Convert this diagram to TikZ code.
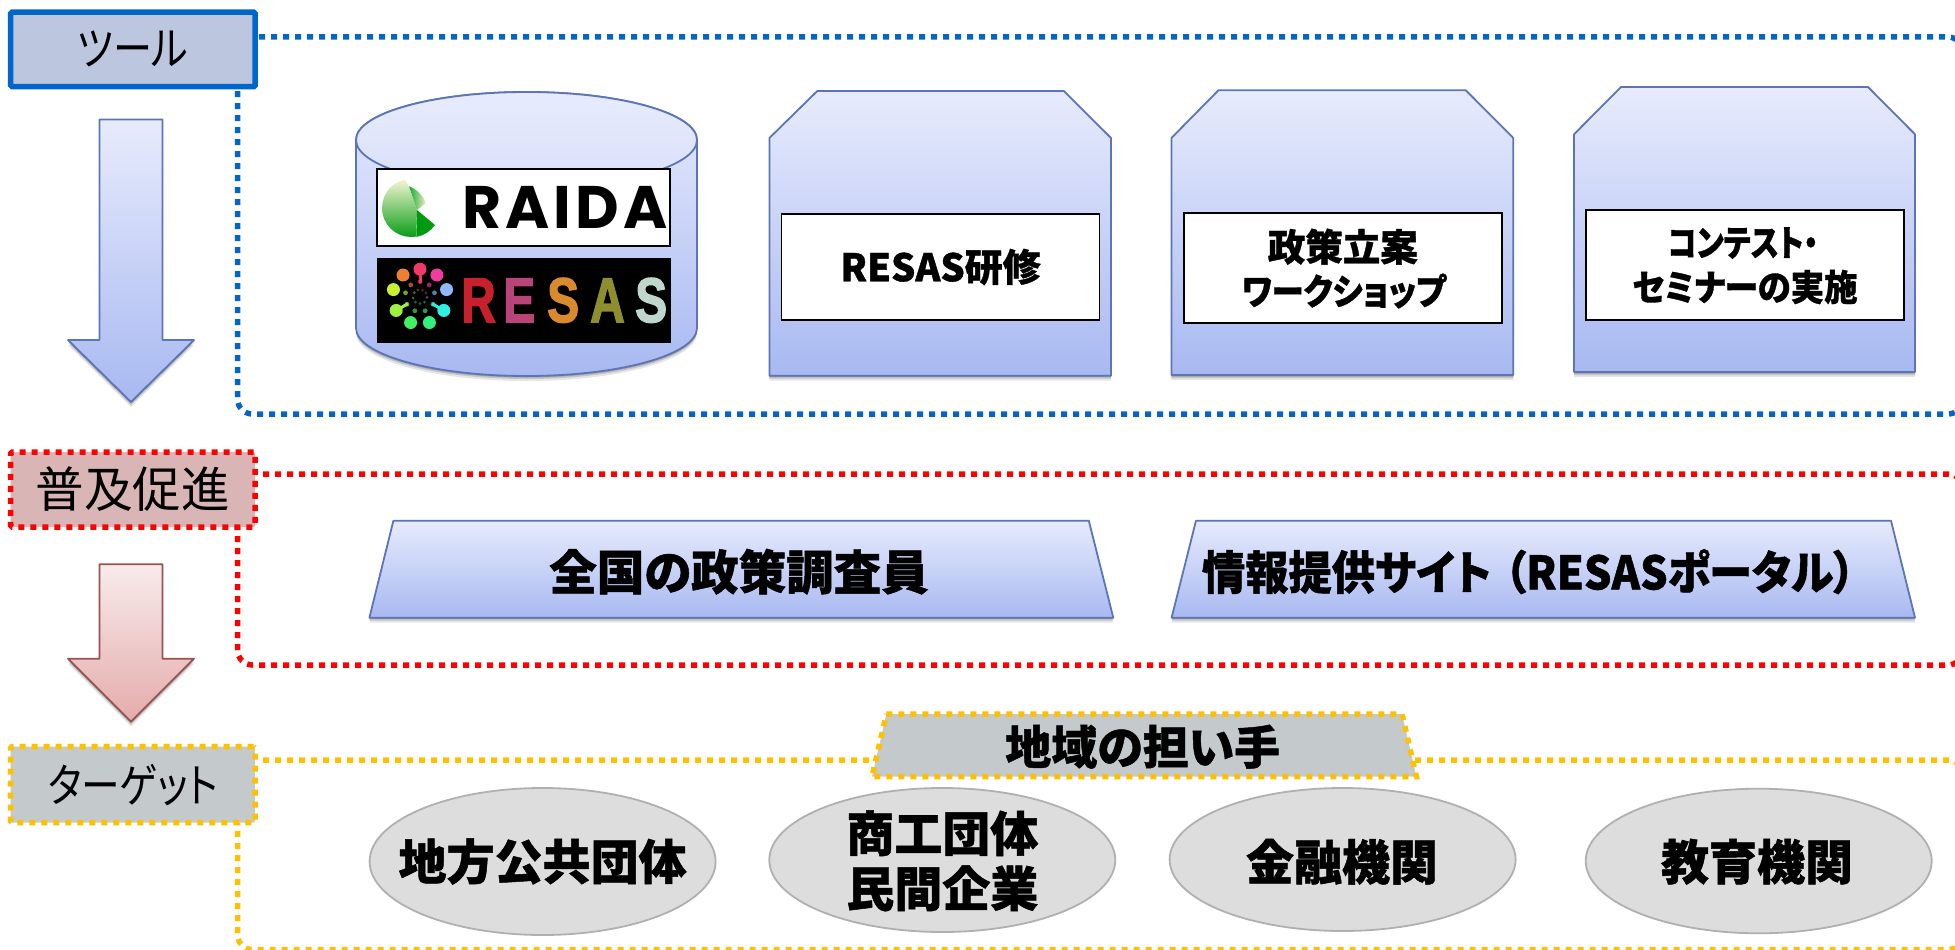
\documentclass[tikz,border=0pt]{standalone}
\usepackage{fontspec}
\usepackage{graphicx}
\usetikzlibrary{shapes.geometric}
\newfontfamily\jpf[RawFeature=+palt,BoldFeatures={FakeBold=1}]{Noto Sans CJK JP}
\newfontfamily\raidaf[LetterSpace=7]{Poppins}
\newfontfamily\resasf[BoldFeatures={FakeBold=2.5}]{Liberation Sans}
\newcommand{\jb}[1]{\jpf\bfseries\fontsize{#1}{#1}\selectfont}
\newcommand{\jr}[1]{\jpf\fontsize{#1}{#1}\selectfont}
\newcommand{\rl}[1]{\scalebox{.76}[1]{\resasf\bfseries\fontsize{63}{63}\selectfont #1}}
\definecolor{gtop}{HTML}{E7EBFC}
\definecolor{gmid}{HTML}{C8D2F7}
\definecolor{gbot}{HTML}{A8B9F1}
\definecolor{edgeb}{HTML}{5B75B8}
\definecolor{rtop}{HTML}{F8EBEB}
\definecolor{rmid}{HTML}{EFD0D0}
\definecolor{rbot}{HTML}{E5ABAB}
\definecolor{edger}{HTML}{985252}
\definecolor{fblue}{HTML}{0066CC}
\definecolor{fred}{HTML}{FF0000}
\definecolor{fyel}{HTML}{FFC000}
\definecolor{lblblue}{HTML}{BCC6DF}
\definecolor{lblred}{HTML}{DAB5B5}
\definecolor{lblgray}{HTML}{C4CACC}
\definecolor{ellfill}{HTML}{DDDDDD}
\definecolor{elledge}{HTML}{B0B0B0}
\definecolor{lgpale}{HTML}{F3F5D2}
\definecolor{lgmain}{HTML}{10B030}
\definecolor{lgdark}{HTML}{009A10}
\definecolor{lgcream}{HTML}{F0E8C0}
\definecolor{lrR}{HTML}{C8202C}
\definecolor{lrE}{HTML}{B84478}
\definecolor{lrS}{HTML}{D98A2C}
\definecolor{lrA}{HTML}{8E8E2C}
\definecolor{lrZ}{HTML}{BFD6CC}
\tikzset{
  softshadow/.style={
    preaction={fill=black,opacity=.10,transform canvas={yshift=-5pt}},
    preaction={fill=black,opacity=.14,transform canvas={yshift=-3pt}},
    preaction={fill=black,opacity=.18,transform canvas={yshift=-1.5pt}}},
  bluegrad/.style={softshadow,top color=gtop,middle color=gmid,bottom color=gbot,draw=edgeb,line width=1.8pt,line join=round},
  redgrad/.style={softshadow,top color=rtop,middle color=rmid,bottom color=rbot,draw=edger,line width=1.8pt,line join=round},
  whitebox/.style={draw=black,fill=white,line width=1.8pt,inner sep=0pt,align=center},
  framebase/.style={line width=5.5pt,dash pattern=on 6pt off 6pt,rounded corners=15pt},
  lblbox/.style={inner sep=0pt,minimum width=244.5pt,rounded corners=1.5pt,line width=5.5pt},
  ellbox/.style={ellipse,fill=ellfill,draw=elledge,line width=1.8pt,inner sep=0pt},
  txt/.style={inner sep=0pt,align=center},
  resasl/.style={inner sep=0pt,anchor=base west}
}
\begin{document}
\begin{tikzpicture}[x=1pt,y=-1pt]
\path[use as bounding box] (0,0) rectangle (1955,950);
\clip (0,0) rectangle (1955,950);
\fill[white] (0,0) rectangle (1955,950);

% dotted frames
\coordinate (bs) at (259,37); \coordinate (bc1) at (1963,37); \coordinate (bc2) at (1963,414); \coordinate (bc3) at (237.5,414); \coordinate (be) at (237.5,90);
\draw[framebase,draw=fblue] (bs) -- (bc1) -- (bc2) -- (bc3) -- (be);
\coordinate (rs) at (263,474); \coordinate (rc1) at (1963,474); \coordinate (rc2) at (1963,665); \coordinate (rc3) at (237.5,665); \coordinate (re) at (237.5,527);
\draw[framebase,draw=fred] (rs) -- (rc1) -- (rc2) -- (rc3) -- (re);
\coordinate (ys) at (263,760); \coordinate (yc1) at (1963,760); \coordinate (yc2) at (1963,949.5); \coordinate (yc3) at (237.5,949.5); \coordinate (ye) at (237.5,823);
\draw[framebase,draw=fyel] (ys) -- (yc1) -- (yc2) -- (yc3) -- (ye);

% left labels
\node[lblbox,minimum height=74.7pt,fill=lblblue,draw=fblue] (tool) at (132.9,49.4) {\scalebox{.85}[1]{\jr{46}ツール}};
\node[lblbox,minimum height=75pt,fill=lblred,draw=fred,dash pattern=on 6pt off 6pt] (spread) at (132.9,489.5) {\jr{48.5}普及促進};
\node[lblbox,minimum height=76pt,fill=lblgray,draw=fyel,dash pattern=on 6pt off 6pt] (target) at (132.9,784.7) {\scalebox{.84}[1]{\jr{46}ターゲット}};

% arrows
\draw[bluegrad] (99.5,119.5) -- (162.5,119.5) -- (162.5,340) -- (194,340) -- (131,402) -- (68,340) -- (99.5,340) -- cycle;
\draw[redgrad] (99.5,564.3) -- (162.5,564.3) -- (162.5,658.7) -- (194,658.7) -- (131,721.7) -- (68,658.7) -- (99.5,658.7) -- cycle;

% cylinder
\draw[bluegrad] (356,140) arc[start angle=180,end angle=360,x radius=170.5,y radius=48] -- (697,328) arc[start angle=0,end angle=180,x radius=170.5,y radius=48] -- cycle;
\shade[top color=gtop,bottom color=gtop!55!gmid] (526.5,140) ellipse[x radius=170.5,y radius=48];
\draw[edgeb,line width=1.8pt] (526.5,140) ellipse[x radius=170.5,y radius=48];

% RAIDA logo
\node[whitebox,minimum width=293pt,minimum height=77pt] (raida) at (523.5,207.5) {};
\begin{scope}[shift={(411,208)}]
  \shade[top color=lgpale,bottom color=lgdark] (-6,-28.4) arc[start angle=-102,end angle=-280,radius=29] -- (6,2) -- (-2,-21) -- cycle;
  \shade[left color=lgmain,middle color=lgmain,right color=lgcream] (-2,-21.7) arc[start angle=-70,end angle=-20,radius=28] -- (6,2) -- cycle;
  \fill[lgdark] (6,2) -- (24,17) arc[start angle=35,end angle=80,radius=29] -- cycle;
\end{scope}
\node[inner sep=0pt,anchor=base west] (raidatxt) at (462,228) {\raidaf\bfseries\fontsize{60}{60}\selectfont RAIDA};

% RESAS logo
\node[fill=black,inner sep=0pt,minimum width=294pt,minimum height=85pt] (resas) at (524,300.5) {};
\begin{scope}
  \clip (377,258) rectangle (671,343);
  \begin{scope}[shift={(420,296.7)}]
    \foreach \a/\c in {-90/F0386B,-128/F08030,-52/F03CA0,-165/C8F030,-15/90B8FF,150/A0F040,30/30F0E0,110/40F060,70/30F080}{
      \definecolor{dotc}{HTML}{\c}
      \fill[dotc] (\a:27.5) circle[radius=6.5pt];
      \fill[dotc!65!black] (\a:15) circle[radius=2.4pt];
      \fill[dotc!45!black] (\a+20:7) circle[radius=1.5pt];
    }
    \foreach \a/\c in {-90/F0386B,150/A0F040,30/30F0E0}{
      \definecolor{dotc}{HTML}{\c}
      \draw[dotc,line width=3pt] (\a:14) -- (\a:24);
    }
  \end{scope}
  \node[resasl,text=lrR] (ra) at (461,322) {\rl{R}};
  \node[resasl,text=lrE] (rb) at (503,322) {\rl{E}};
  \node[resasl,text=lrS] (rc) at (547,322) {\rl{S}};
  \node[resasl,text=lrA] (rd) at (590,322) {\rl{A}};
  \node[resasl,text=lrZ] (re2) at (635,322) {\rl{S}};
\end{scope}

% snipped boxes
\draw[bluegrad] (817.3,91) -- (1063.8,91) -- (1111,138) -- (1111,375.7) -- (769.4,375.7) -- (769.4,138) -- cycle;
\node[whitebox,minimum width=318pt,minimum height=106pt] (b1) at (940.5,267) {\jb{38}RESAS研修};
\draw[bluegrad] (1218.4,90.3) -- (1465.8,90.3) -- (1513.3,138) -- (1513.3,375) -- (1171.4,375) -- (1171.4,138) -- cycle;
\node[whitebox,minimum width=318.3pt,minimum height=110pt] (b2) at (1342.8,268.3) {};
\node[txt] (b2a) at (1342.8,246.7) {\jb{37.5}政策立案};
\node[txt] (b2b) at (1344,291) {\scalebox{.9}[1]{\jb{36}ワークショップ}};
\draw[bluegrad] (1621,87) -- (1868,87) -- (1915,134.3) -- (1915,372) -- (1574,372) -- (1574,134.3) -- cycle;
\node[whitebox,minimum width=318pt,minimum height=110.3pt] (b3) at (1744.7,264.8) {};
\node[txt] (b3a) at (1743,243) {\scalebox{.82}[1]{\jb{36}コンテスト・}};
\node[txt] (b3b) at (1745,287) {\scalebox{.93}[1]{\jb{36}セミナーの実施}};

% trapezoids
\draw[bluegrad] (393.4,520.7) -- (1088.8,520.7) -- (1113.3,617.7) -- (369.4,617.7) -- cycle;
\node[txt] (t1) at (739,571.7) {\jb{47.5}全国の政策調査員};
\draw[bluegrad] (1196,520.7) -- (1891,520.7) -- (1915,617.7) -- (1171.6,617.7) -- cycle;
\node[txt] (t2) at (1528.5,571.7) {\scalebox{.94}[1]{\jb{46}情報提供サイト\hspace{14pt}（RESASポータル）}};

% tag
\draw[fill=lblgray,draw=fyel,line width=5.5pt,dash pattern=on 6pt off 6pt] (886.4,714) -- (1402,714) -- (1416.4,776.7) -- (872,776.7) -- cycle;
\node[txt] (tag) at (1142.7,746.7) {\jb{46}地域の担い手};

% ellipses
\node[ellbox,minimum width=346pt,minimum height=147pt] (e1) at (542.6,861.5) {};
\node[txt] (e1t) at (e1) {\jb{48}地方公共団体};
\node[ellbox,minimum width=346pt,minimum height=144pt] (e2) at (942.3,860) {};
\node[txt] (e2a) at (942.3,833.3) {\jb{48}商工団体};
\node[txt] (e2b) at (942.3,888.3) {\jb{48}民間企業};
\node[ellbox,minimum width=346pt,minimum height=143pt] (e3) at (1342.6,859.5) {};
\node[txt] (e3t) at (1342,861.7) {\jb{48}金融機関};
\node[ellbox,minimum width=346pt,minimum height=144.6pt] (e4) at (1758.7,861) {};
\node[txt] (e4t) at (1757,861.7) {\jb{48}教育機関};
\end{tikzpicture}
\end{document}
